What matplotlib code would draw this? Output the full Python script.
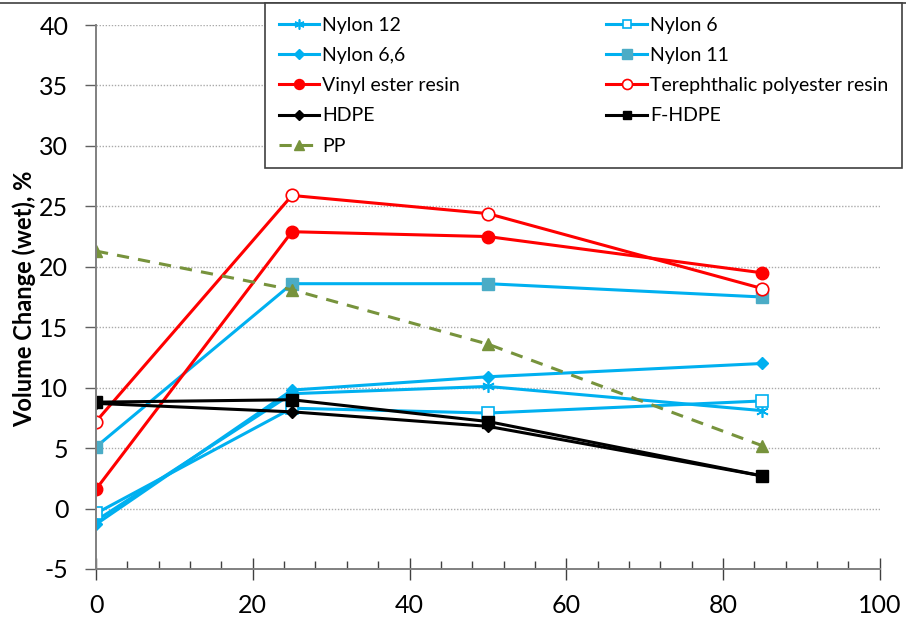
import matplotlib.pyplot as plt
from matplotlib.ticker import MultipleLocator
from matplotlib.lines import Line2D

plt.rcParams['font.family'] = ['Lato', 'DejaVu Sans']
plt.rcParams['axes.unicode_minus'] = False

x = [0, 25, 50, 85]
nylon12 = [-1.0, 9.5, 10.1, 8.1]
nylon6 = [-0.4, 8.3, 7.9, 8.9]
nylon66 = [-1.3, 9.8, 10.9, 12.0]
nylon11 = [5.1, 18.6, 18.6, 17.5]
vinyl = [1.6, 22.9, 22.5, 19.5]
tere = [7.2, 25.9, 24.4, 18.2]
hdpe = [8.7, 8.0, 6.8, 2.7]
fhdpe = [8.8, 9.0, 7.2, 2.7]
pp = [21.3, 18.1, 13.6, 5.2]

blue = '#00B0F0'
fig = plt.figure(figsize=(9.06, 6.19), dpi=100)
ax = fig.add_axes([0.106, 0.0808, 0.865, 0.8788])

lw = 2.2
h = {}
h['Nylon 12'], = ax.plot(x, nylon12, color=blue, lw=lw, marker=(6, 2, 0), ms=9, mew=1.2, label='Nylon 12')
h['Nylon 6'], = ax.plot(x, nylon6, color=blue, lw=lw, marker='s', ms=8, mfc='white', mec=blue, mew=1.2, label='Nylon 6')
h['Nylon 6,6'], = ax.plot(x, nylon66, color=blue, lw=lw, marker='D', ms=6, label='Nylon 6,6')
h['Nylon 11'], = ax.plot(x, nylon11, color=blue, lw=lw, marker='s', ms=9, mfc='#4BACC6', mec='#4BACC6', label='Nylon 11')
h['Vinyl ester resin'], = ax.plot(x, vinyl, color='red', lw=lw, marker='o', ms=9, label='Vinyl ester resin')
h['Terephthalic polyester resin'], = ax.plot(x, tere, color='red', lw=lw, marker='o', ms=9, mfc='white', mec='red', mew=1.2, label='Terephthalic polyester resin')
h['HDPE'], = ax.plot(x, hdpe, color='black', lw=lw, marker='D', ms=6, label='HDPE')
h['F-HDPE'], = ax.plot(x, fhdpe, color='black', lw=lw, marker='s', ms=8, label='F-HDPE')
h['PP'], = ax.plot(x, pp, color='#77933C', lw=lw, ls=(0, (4, 3)), marker='^', ms=9, label='PP')

ax.set_xlim(0, 100)
ax.set_ylim(-5, 40)
ax.xaxis.set_major_locator(MultipleLocator(20))
ax.xaxis.set_minor_locator(MultipleLocator(4))
ax.yaxis.set_major_locator(MultipleLocator(5))
ax.tick_params(axis='x', which='major', direction='inout', length=16, width=1, labelsize=18, color='#404040', pad=10)
ax.tick_params(axis='x', which='minor', direction='in', length=6, width=1, color='#404040')
ax.tick_params(axis='y', which='major', direction='out', length=8, width=1, labelsize=18, color='#606060', pad=12)
ax.yaxis.grid(True, color='#aaaaaa', ls=(0, (1, 1.2)), lw=1)
ax.set_axisbelow(True)
for s in ['top', 'right']:
    ax.spines[s].set_visible(False)
for s in ['left', 'bottom']:
    ax.spines[s].set_color('#808080')
    ax.spines[s].set_linewidth(1.4)
ax.set_ylabel('Volume Change (wet), %', fontsize=17, fontweight='bold')
ax.yaxis.set_label_coords(-0.077, 0.496)

# top border of the chart area
fig.add_artist(Line2D([0, 1], [0.995, 0.995], transform=fig.transFigure, color='#404040', lw=1.2))

order = ['Nylon 12', 'Nylon 6,6', 'Vinyl ester resin', 'HDPE', 'PP',
         'Nylon 6', 'Nylon 11', 'Terephthalic polyester resin', 'F-HDPE']
leg = fig.legend([h[k] for k in order], order, ncol=2, loc='upper left',
                 bbox_to_anchor=(0.2925, 0.732, 0.703, 0.263), mode='expand',
                 borderaxespad=0, fontsize=14, frameon=True, fancybox=False,
                 edgecolor='#404040', framealpha=1, handlelength=2.1, markerscale=0.8,
                 borderpad=0.7, labelspacing=0.68, handletextpad=0.15, columnspacing=1.5)
leg.get_frame().set_linewidth(1.2)

fig.savefig('out.png', dpi=100)
